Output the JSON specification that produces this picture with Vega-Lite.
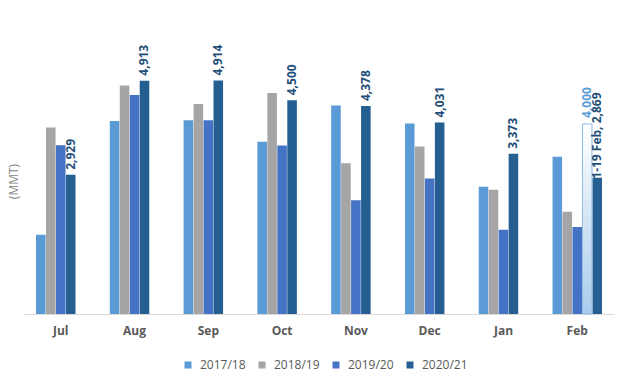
{
  "$schema": "https://vega.github.io/schema/vega-lite/v6.json",
  "autosize": {"type": "none"},
  "width": 590,
  "height": 285,
  "padding": {"left": 24, "top": 29, "right": 11, "bottom": 74},
  "background": "#ffffff",
  "config": {
    "font": "Open Sans",
    "view": {"stroke": null}
  },
  "data": {
    "values": [
      {"month": "Jul", "series": "2017/18", "value": 1668, "kind": "actual"},
      {"month": "Jul", "series": "2018/19", "value": 3924, "kind": "actual"},
      {"month": "Jul", "series": "2019/20", "value": 3554, "kind": "actual"},
      {"month": "Jul", "series": "2020/21", "value": 2929, "kind": "actual"},
      {"month": "Aug", "series": "2017/18", "value": 4065, "kind": "actual"},
      {"month": "Aug", "series": "2018/19", "value": 4808, "kind": "actual"},
      {"month": "Aug", "series": "2019/20", "value": 4612, "kind": "actual"},
      {"month": "Aug", "series": "2020/21", "value": 4913, "kind": "actual"},
      {"month": "Sep", "series": "2017/18", "value": 4080, "kind": "actual"},
      {"month": "Sep", "series": "2018/19", "value": 4423, "kind": "actual"},
      {"month": "Sep", "series": "2019/20", "value": 4080, "kind": "actual"},
      {"month": "Sep", "series": "2020/21", "value": 4914, "kind": "actual"},
      {"month": "Oct", "series": "2017/18", "value": 3624, "kind": "actual"},
      {"month": "Oct", "series": "2018/19", "value": 4654, "kind": "actual"},
      {"month": "Oct", "series": "2019/20", "value": 3546, "kind": "actual"},
      {"month": "Oct", "series": "2020/21", "value": 4500, "kind": "actual"},
      {"month": "Nov", "series": "2017/18", "value": 4387, "kind": "actual"},
      {"month": "Nov", "series": "2018/19", "value": 3175, "kind": "actual"},
      {"month": "Nov", "series": "2019/20", "value": 2397, "kind": "actual"},
      {"month": "Nov", "series": "2020/21", "value": 4378, "kind": "actual"},
      {"month": "Dec", "series": "2017/18", "value": 4008, "kind": "actual"},
      {"month": "Dec", "series": "2018/19", "value": 3525, "kind": "actual"},
      {"month": "Dec", "series": "2019/20", "value": 2852, "kind": "actual"},
      {"month": "Dec", "series": "2020/21", "value": 4031, "kind": "actual"},
      {"month": "Jan", "series": "2017/18", "value": 2677, "kind": "actual"},
      {"month": "Jan", "series": "2018/19", "value": 2614, "kind": "actual"},
      {"month": "Jan", "series": "2019/20", "value": 1773, "kind": "actual"},
      {"month": "Jan", "series": "2020/21", "value": 3373, "kind": "actual"},
      {"month": "Feb", "series": "2017/18", "value": 3308, "kind": "actual"},
      {"month": "Feb", "series": "2018/19", "value": 2151, "kind": "actual"},
      {"month": "Feb", "series": "2019/20", "value": 1830, "kind": "actual"},
      {"month": "Feb", "series": "2020/21", "value": 4000, "kind": "forecast"},
      {"month": "Feb", "series": "1-19 Feb", "value": 2869, "kind": "partial", "note": "1-19 Feb, 2,869"}
    ]
  },
  "encoding": {
    "x": {
      "field": "month",
      "type": "nominal",
      "sort": ["Jul", "Aug", "Sep", "Oct", "Nov", "Dec", "Jan", "Feb"],
      "scale": {"paddingInner": 0.33, "paddingOuter": 0.163},
      "axis": {
        "title": null,
        "ticks": false,
        "domainColor": "#d9d9d9",
        "domainWidth": 1,
        "labelFont": "Open Sans",
        "labelFontSize": 12,
        "labelFontWeight": "bold",
        "labelColor": "#595959",
        "labelPadding": 11,
        "labelAngle": 0,
        "grid": false
      }
    },
    "xOffset": {
      "field": "series",
      "type": "nominal",
      "scale": {"domain": ["2017/18", "2018/19", "2019/20", "2020/21", "1-19 Feb"], "paddingInner": 0.04, "paddingOuter": 0}
    },
    "y": {
      "field": "value",
      "type": "quantitative",
      "scale": {"domain": [0, 6000]},
      "axis": {
        "title": "(MMT)",
        "labels": false,
        "ticks": false,
        "domain": false,
        "grid": false,
        "titleX": -11,
        "titleY": 152,
        "titleBaseline": "middle",
        "titleFont": "Open Sans",
        "titleFontSize": 12,
        "titleFontWeight": "normal",
        "titleColor": "#7f7f7f"
      }
    }
  },
  "layer": [
    {
      "transform": [{"filter": "datum.kind != 'forecast'"}],
      "mark": {"type": "bar"},
      "encoding": {
        "color": {
          "field": "series",
          "type": "nominal",
          "scale": {
            "domain": ["2017/18", "2018/19", "2019/20", "2020/21", "1-19 Feb"],
            "range": ["#5b9bd5", "#a5a5a5", "#4472c4", "#255e91", "#255e91"]
          },
          "legend": {
            "values": ["2017/18", "2018/19", "2019/20", "2020/21"],
            "title": null,
            "orient": "none",
            "direction": "horizontal",
            "legendX": 158,
            "legendY": 330,
            "symbolType": "square",
            "symbolSize": 49,
            "symbolStrokeWidth": 0,
            "labelFont": "Open Sans",
            "labelFontSize": 12,
            "labelColor": "#595959",
            "labelOffset": 6,
            "columnPadding": 10
          }
        }
      }
    },
    {
      "transform": [{"filter": "datum.kind == 'forecast'"}],
      "mark": {
        "type": "bar",
        "stroke": "#8db9e3",
        "strokeWidth": 1,
        "color": {
          "gradient": "linear",
          "x1": 0, "y1": 0, "x2": 0, "y2": 1,
          "stops": [
            {"offset": 0, "color": "#ffffff"},
            {"offset": 1, "color": "#a9cbeb"}
          ]
        }
      }
    },
    {
      "transform": [{"filter": "datum.series == '2020/21' && datum.kind == 'actual'"}],
      "mark": {
        "type": "text",
        "angle": 270,
        "align": "left",
        "baseline": "middle",
        "dx": 5,
        "font": "Open Sans",
        "fontSize": 12,
        "fontWeight": "bold",
        "color": "#1f4e79"
      },
      "encoding": {"text": {"field": "value", "type": "quantitative", "format": ",.0f"}}
    },
    {
      "transform": [{"filter": "datum.kind == 'forecast'"}],
      "mark": {
        "type": "text",
        "angle": 270,
        "align": "left",
        "baseline": "middle",
        "dx": 6,
        "font": "Open Sans",
        "fontSize": 12,
        "fontWeight": "bold",
        "color": "#5b9bd5"
      },
      "encoding": {"text": {"field": "value", "type": "quantitative", "format": ",.0f"}}
    },
    {
      "transform": [{"filter": "datum.kind == 'partial'"}],
      "mark": {
        "type": "text",
        "angle": 270,
        "align": "left",
        "baseline": "middle",
        "dx": -1,
        "font": "Open Sans",
        "fontSize": 12,
        "fontWeight": "bold",
        "color": "#1f4e79"
      },
      "encoding": {"text": {"field": "note", "type": "nominal"}}
    }
  ]
}
